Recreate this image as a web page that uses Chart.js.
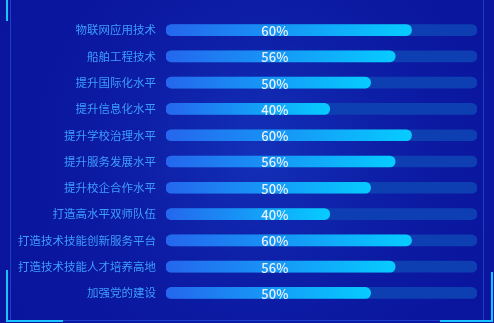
<!DOCTYPE html>
<html>
<head>
<meta charset="utf-8">
<script src="https://cdn.jsdelivr.net/npm/chart.js@4/dist/chart.umd.min.js"></script>
<style>
  html, body { margin: 0; padding: 0; background: #0a1496; }
  #wrap { position: relative; width: 494px; height: 323px; }
</style>
</head>
<body>
<div id="wrap"><canvas id="barChart" width="494" height="323"></canvas></div>
<script>
// 各项建设任务完成度
const categories = [
    "物联网应用技术", "船舶工程技术", "提升国际化水平", "提升信息化水平",
    "提升学校治理水平", "提升服务发展水平", "提升校企合作水平", "打造高水平双师队伍",
    "打造技术技能创新服务平台", "打造技术技能人才培养高地", "加强党的建设"
];
const values = [60, 56, 50, 40, 60, 56, 50, 40, 60, 56, 50];
const axisMax = 76;
const trackValues = categories.map(() => axisMax);

// 背景 + 边框
const backdrop = {
    id: 'backdrop',
    beforeDraw(chart) {
        const { ctx, width, height } = chart;
        ctx.save();
        ctx.fillStyle = '#0a159e';
        ctx.fillRect(0, 0, width, height);
        let g = ctx.createRadialGradient(260, 150, 10, 260, 150, 300);
        g.addColorStop(0, 'rgba(30, 80, 215, 0.45)');
        g.addColorStop(1, 'rgba(10, 20, 150, 0)');
        ctx.fillStyle = g;
        ctx.fillRect(0, 0, width, height);
        // 内框细线
        ctx.strokeStyle = 'rgba(40, 90, 230, 0.6)';
        ctx.lineWidth = 1;
        ctx.strokeRect(10.5, -1, width - 21, height - 1.5);
        // 角标
        ctx.strokeStyle = '#19c3ff';
        ctx.lineWidth = 2;
        ctx.beginPath();
        ctx.moveTo(7, 0); ctx.lineTo(7, 21);
        ctx.moveTo(7, 270); ctx.lineTo(7, 321); ctx.lineTo(63, 321);
        ctx.moveTo(492, 272); ctx.lineTo(492, 321); ctx.lineTo(440, 321);
        ctx.stroke();
        ctx.restore();
    }
};

// 百分比文字
const percentText = {
    id: 'percentText',
    afterDatasetsDraw(chart) {
        const { ctx } = chart;
        const xScale = chart.scales.x;
        const yScale = chart.scales.y;
        ctx.save();
        ctx.font = '500 13px "Noto Sans CJK SC", "Noto Sans", sans-serif';
        ctx.fillStyle = '#e8f0ff';
        ctx.textAlign = 'center';
        ctx.textBaseline = 'middle';
        values.forEach((v, i) => {
            ctx.fillText(v + '%', xScale.getPixelForValue(axisMax * 0.35), yScale.getPixelForValue(i) + 1);
        });
        ctx.restore();
    }
};

const ctx = document.getElementById('barChart').getContext('2d');
const barChart = new Chart(ctx, {
    type: 'bar',
    data: {
        labels: categories,
        datasets: [{
            data: values,
            order: 1,
            grouped: false,
            barThickness: 11,
            borderRadius: 6,
            borderSkipped: false,
            backgroundColor: (c) => {
                const area = c.chart.chartArea;
                if (!area) return '#1a8cff';
                const xEnd = c.chart.scales.x.getPixelForValue(values[c.dataIndex]);
                const g = c.chart.ctx.createLinearGradient(area.left, 0, xEnd, 0);
                g.addColorStop(0, '#2566ee');
                g.addColorStop(1, '#06ccff');
                return g;
            }
        }, {
            data: trackValues,
            order: 2,
            grouped: false,
            barThickness: 11,
            borderRadius: 6,
            borderSkipped: false,
            backgroundColor: '#0e3fb2'
        }]
    },
    options: {
        indexAxis: 'y',
        responsive: false,
        animation: false,
        layout: { padding: { left: 0, right: 17, top: 11, bottom: 11 } },
        plugins: {
            legend: { display: false },
            tooltip: { enabled: false }
        },
        scales: {
            x: {
                min: 0,
                max: axisMax,
                display: false
            },
            y: {
                grid: { display: false, drawTicks: false },
                border: { display: false },
                afterFit: (scale) => { scale.width = 166; },
                ticks: {
                    color: '#3d9dff',
                    padding: 10,
                    font: { size: 11.5, family: '"Noto Sans CJK SC", sans-serif' }
                }
            }
        }
    },
    plugins: [backdrop, percentText]
});
</script>
</body>
</html>
